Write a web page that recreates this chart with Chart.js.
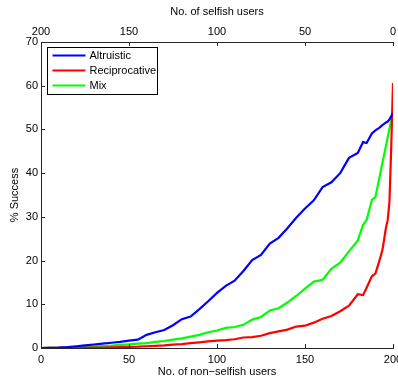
<!DOCTYPE html>
<html>
<head>
<meta charset="utf-8">
<script src="https://cdn.jsdelivr.net/npm/chart.js@4"></script>
<style>
  html, body { margin: 0; padding: 0; background: #ffffff; }
  #wrap { width: 398px; height: 383px; }
</style>
</head>
<body>
<div id="wrap"><canvas id="c" width="398" height="383"></canvas></div>
<script>
// Number of non-selfish users at which success rate was measured
const users = [0, 5, 10, 15, 20, 25, 30, 35, 40, 45, 50, 55, 60, 65, 70, 75, 80, 85, 90, 95,
  100, 105, 110, 115, 120, 125, 130, 135, 140, 145, 150, 155, 160, 165, 170, 175, 180,
  183, 185, 188, 190, 192, 194, 196, 197, 198, 199, 200];

// % success for each strategy
const altruistic = [0, 0.05, 0.1, 0.2, 0.4, 0.6, 0.8, 1.0, 1.2, 1.4, 1.7, 1.9, 3.0, 3.6, 4.1, 5.2, 6.6, 7.2, 8.9, 10.7,
  12.6, 14.2, 15.4, 17.6, 20.1, 21.3, 23.9, 25.2, 27.4, 29.8, 31.9, 33.8, 36.8, 37.9, 40.0, 43.5, 44.6,
  47.1, 46.9, 49.1, 49.8, 50.3, 51.0, 51.6, 51.8, 52.3, 53.0, 53.7];
const reciprocative = [0, 0.01, 0.02, 0.03, 0.05, 0.07, 0.1, 0.12, 0.15, 0.2, 0.25, 0.3, 0.4, 0.5, 0.6, 0.75, 0.9, 1.1, 1.3, 1.5,
  1.7, 1.8, 2.0, 2.4, 2.5, 2.8, 3.4, 3.8, 4.2, 4.9, 5.1, 5.8, 6.7, 7.3, 8.4, 9.7, 12.3,
  12.1, 13.8, 16.4, 17.0, 19.6, 22.4, 27.5, 29.3, 33.5, 46.0, 60.6];
const mix = [0, 0.02, 0.05, 0.1, 0.15, 0.25, 0.35, 0.45, 0.55, 0.7, 0.85, 1.0, 1.1, 1.4, 1.6, 1.9, 2.2, 2.6, 3.0, 3.6,
  4.0, 4.6, 4.8, 5.3, 6.5, 7.1, 8.6, 9.1, 10.4, 11.9, 13.6, 15.2, 15.6, 18.1, 19.5, 22.1, 24.6,
  28.2, 29.3, 33.9, 34.5, null, null, null, null, null, null, 54.1];

const seriesNames = ['Altruistic', 'Reciprocative', 'Mix'];
const seriesColors = ['#0000ff', '#ff0000', '#00ff00'];
const seriesValues = [altruistic, reciprocative, mix];

const xTicksStep = 50;
const yTicksStep = 10;

const FONT = "'Liberation Sans', Arial, Helvetica, sans-serif";
const AXIS = '#262626';

Chart.defaults.font.family = FONT;
Chart.defaults.font.size = 11;
Chart.defaults.color = '#000000';

function toPoints(vals) {
  return users.map((u, i) => ({ x: u, y: vals[i] }));
}

// Tick labels may overflow the canvas edge; don't reserve room for them
function fixSize(prop, value) {
  return function (s) {
    s[prop] = value;
    s.paddingLeft = 0; s.paddingRight = 0;
    s.paddingTop = 0; s.paddingBottom = 0;
  };
}

// Inward tick marks (MATLAB style) and an in-axes legend box
const framePlugin = {
  id: 'frame',
  afterDraw(chart) {
    const ctx = chart.ctx;
    const len = 4;
    ctx.save();
    ctx.strokeStyle = AXIS;
    ctx.lineWidth = 1;
    const xb = chart.scales.x, xt = chart.scales.x2, y = chart.scales.y;
    ctx.beginPath();
    xb.ticks.forEach(t => {
      const p = Math.round(xb.getPixelForValue(t.value)) + 0.5;
      ctx.moveTo(p, xb.top); ctx.lineTo(p, xb.top - len);
    });
    xt.ticks.forEach(t => {
      const p = Math.round(xt.getPixelForValue(t.value)) + 0.5;
      ctx.moveTo(p, xt.bottom); ctx.lineTo(p, xt.bottom + len);
    });
    y.ticks.forEach(t => {
      const p = Math.round(y.getPixelForValue(t.value)) + 0.5;
      ctx.moveTo(y.right, p); ctx.lineTo(y.right + len, p);
    });
    ctx.stroke();

    // legend
    const area = chart.chartArea;
    const bx = area.left + 6.5, by = area.top + 5.5, bw = 110, bh = 47;
    ctx.fillStyle = '#ffffff';
    ctx.fillRect(bx, by, bw, bh);
    ctx.strokeStyle = '#000000';
    ctx.strokeRect(bx, by, bw, bh);
    ctx.font = '11px ' + FONT;
    ctx.textBaseline = 'middle';
    ctx.textAlign = 'left';
    chart.data.datasets.forEach((ds, i) => {
      const ly = by + 8 + i * 15;
      ctx.strokeStyle = ds.borderColor;
      ctx.lineWidth = 2.2;
      ctx.beginPath();
      ctx.moveTo(bx + 5, ly); ctx.lineTo(bx + 38, ly);
      ctx.stroke();
      ctx.fillStyle = '#000000';
      ctx.fillText(ds.label, bx + 42, ly + 0.5);
    });
    ctx.restore();
  }
};

new Chart(document.getElementById('c'), {
  type: 'line',
  data: {
    datasets: seriesNames.map((name, i) => ({
      label: name,
      data: toPoints(seriesValues[i]),
      borderColor: seriesColors[i],
      backgroundColor: seriesColors[i],
      borderWidth: 2.2,
      pointRadius: 0,
      tension: 0,
      spanGaps: true,
      xAxisID: 'x',
      yAxisID: 'y'
    }))
  },
  options: {
    responsive: false,
    animation: false,
    events: [],
    layout: { padding: { left: 0, right: 5, top: 0, bottom: 0 } },
    plugins: { legend: { display: false }, tooltip: { enabled: false } },
    scales: {
      x: {
        type: 'linear', position: 'bottom', min: 0, max: 200,
        ticks: { stepSize: xTicksStep, padding: 5, maxRotation: 0, autoSkip: false, color: '#000' },
        grid: { display: true, drawOnChartArea: false, drawTicks: false },
        border: { display: true, color: AXIS, width: 1 },
        title: { display: true, text: 'No. of non\u2212selfish users', font: { size: 11 }, padding: { top: 0, bottom: 4.5 }, color: '#000' },
        afterFit: fixSize('height', 35)
      },
      x2: {
        type: 'linear', position: 'top', min: 0, max: 200, reverse: true,
        ticks: { stepSize: xTicksStep, padding: 3.5, maxRotation: 0, autoSkip: false, color: '#000' },
        grid: { display: true, drawOnChartArea: false, drawTicks: false },
        border: { display: true, color: AXIS, width: 1 },
        title: { display: true, text: 'No. of selfish users', font: { size: 11 }, padding: { top: 5.5, bottom: 0 }, color: '#000' },
        afterFit: fixSize('height', 42)
      },
      y: {
        type: 'linear', position: 'left', min: 0, max: 70,
        ticks: { stepSize: yTicksStep, padding: 3, color: '#000' },
        grid: { display: true, drawOnChartArea: false, drawTicks: false },
        border: { display: true, color: AXIS, width: 1 },
        title: { display: true, text: '% Success', font: { size: 11 }, padding: { top: 8, bottom: 0 }, color: '#000' },
        afterFit: fixSize('width', 41)
      }
    }
  },
  plugins: [framePlugin]
});
</script>
</body>
</html>
